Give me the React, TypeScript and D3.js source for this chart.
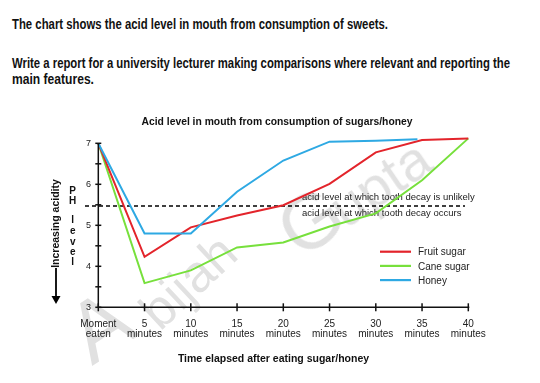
import React from "react";
import * as d3 from "d3";

const times = [0, 5, 10, 15, 20, 25, 30, 35, 40];
const tickLine1 = ["Moment", "5", "10", "15", "20", "25", "30", "35", "40"];
const tickLine2 = ["eaten", "minutes", "minutes", "minutes", "minutes", "minutes", "minutes", "minutes", "minutes"];
const yTicks = [3, 4, 5, 6, 7];
const yMinor = [3, 3.5, 4, 4.5, 5, 5.5, 6, 6.5, 7];

const fruitSugar = [7, 4.23, 4.95, 5.24, 5.49, 6.01, 6.78, 7.08, 7.12];
const caneSugar = [7, 3.59, 3.9, 4.46, 4.58, 4.97, 5.29, 6.1, 7.12];
const honeyTimes = [0, 5, 10, 15, 20, 25, 30, 34.5];
const honey = [7, 4.8, 4.8, 5.82, 6.58, 7.04, 7.06, 7.1];
const threshold = 5.47;

const seriesNames = ["Fruit sugar", "Cane sugar", "Honey"];
const seriesColors = ["#e3242b", "#77e03c", "#2ea9e3"];

const font = "Arial, 'Liberation Sans', Helvetica, sans-serif";
const narrow = "'Liberation Sans Narrow', 'Arial Narrow', 'Liberation Sans', Arial, sans-serif";

export default function App() {
  const x = d3.scaleLinear().domain([0, 40]).range([98.3, 468.3]);
  const y = d3.scaleLinear().domain([3, 7]).range([307.3, 143.3]);
  const line = d3
    .line<[number, number]>()
    .x((d) => x(d[0]))
    .y((d) => y(d[1]));

  const series: [number, number][][] = [
    times.map((t, i) => [t, fruitSugar[i]] as [number, number]),
    times.map((t, i) => [t, caneSugar[i]] as [number, number]),
    honeyTimes.map((t, i) => [t, honey[i]] as [number, number]),
  ];
  // draw order: cane, fruit, honey
  const order = [1, 0, 2];

  const phLetters = [
    { c: "P", y: 190 },
    { c: "H", y: 200.7 },
    { c: "l", y: 219 },
    { c: "e", y: 230 },
    { c: "v", y: 241 },
    { c: "e", y: 251.7 },
    { c: "l", y: 261.7 },
  ];

  const sx = 0.8;

  return (
    <svg
      width={540}
      height={383}
      style={{ position: "absolute", left: 0, top: 0, background: "#fff" }}
    >
      <rect x={0} y={0} width={540} height={383} fill="#fff" />
      {/* header */}
      <g
        transform={`scale(${sx},1)`}
        fontFamily={narrow}
        fontWeight="bold"
        fontSize={15}
        fill="#111"
      >
        <text x={12 / sx} y={29.5} textLength={376 / sx} lengthAdjust="spacingAndGlyphs">
          The chart shows the acid level in mouth from consumption of sweets.
        </text>
        <text x={12 / sx} y={68.5} textLength={498 / sx} lengthAdjust="spacingAndGlyphs">
          Write a report for a university lecturer making comparisons where relevant and reporting the
        </text>
        <text x={12 / sx} y={84.5} textLength={82 / sx} lengthAdjust="spacingAndGlyphs">
          main features.
        </text>
      </g>

      {/* watermark */}
      <g fill="#000" opacity={0.12} fontFamily={font}>
        <text transform="translate(92,366) rotate(-33)" fontSize={86}>A</text>
        <text transform="translate(160,332) rotate(-43)" fontSize={52}>bijah</text>
        <text transform="translate(300,260) rotate(-34)">
          <tspan fontSize={78}>G</tspan>
          <tspan fontSize={56} dx={-6}>upta</tspan>
        </text>
      </g>

      {/* chart title */}
      <text
        x={277}
        y={125}
        textAnchor="middle"
        fontFamily={font}
        fontWeight="bold"
        fontSize={10.5}
        fill="#111"
        textLength={271}
        lengthAdjust="spacingAndGlyphs"
      >
        Acid level in mouth from consumption of sugars/honey
      </text>

      {/* threshold line */}
      <line
        x1={85}
        x2={465}
        y1={y(threshold)}
        y2={y(threshold)}
        stroke="#000"
        strokeWidth={1.6}
        strokeDasharray="4,3"
      />
      <g fontFamily={font} fontSize={9.5} fill="#222">
        <text x={302} y={y(threshold) - 6}>acid level at which tooth decay is unlikely</text>
        <text x={302} y={y(threshold) + 10}>acid level at which tooth decay occurs</text>
      </g>

      {/* series */}
      {order.map((i) => (
        <path
          key={seriesNames[i]}
          d={line(series[i]) || ""}
          fill="none"
          stroke={seriesColors[i]}
          strokeWidth={2}
          strokeLinejoin="miter"
        />
      ))}

      {/* axes */}
      <line x1={x(0)} x2={x(40) + 1} y1={y(3)} y2={y(3)} stroke="#111" strokeWidth={1.5} />
      <line x1={x(0)} x2={x(0)} y1={y(7)} y2={y(3)} stroke="#111" strokeWidth={1.5} />
      {yMinor.map((v) => (
        <line key={v} x1={x(0) - 3} x2={x(0) + 3} y1={y(v)} y2={y(v)} stroke="#111" strokeWidth={1.5} />
      ))}
      {times.map((t) => (
        <line key={t} x1={x(t)} x2={x(t)} y1={y(3) - 4} y2={y(3) + 4} stroke="#111" strokeWidth={1.5} />
      ))}
      <g fontFamily={font} fontSize={9} fill="#222" textAnchor="end">
        {yTicks.map((v) => (
          <text key={v} x={91} y={y(v) + 3}>
            {v}
          </text>
        ))}
      </g>
      <g fontFamily={font} fontSize={10} fill="#222" textAnchor="middle">
        {times.map((t, i) => (
          <g key={t}>
            <text x={x(t)} y={327}>{tickLine1[i]}</text>
            <text x={x(t)} y={336.5}>{tickLine2[i]}</text>
          </g>
        ))}
      </g>

      {/* axis titles */}
      <text
        x={273.5}
        y={361.5}
        textAnchor="middle"
        fontFamily={font}
        fontWeight="bold"
        fontSize={10.5}
        fill="#111"
      >
        Time elapsed after eating sugar/honey
      </text>
      <text
        transform="translate(59,223.5) rotate(-90)"
        textAnchor="middle"
        fontFamily={font}
        fontWeight="bold"
        fontSize={10.5}
        fill="#111"
      >
        Increasing acidity
      </text>
      <line x1={56} x2={56} y1={268} y2={298} stroke="#000" strokeWidth={1.8} />
      <path d="M51.5,296 L60.5,296 L56,304 Z" fill="#000" />
      <g fontFamily={font} fontWeight="bold" fontSize={10} fill="#111" textAnchor="middle">
        {phLetters.map((l, i) => (
          <text key={i} x={72.7} y={l.y + 3.6}>
            {l.c}
          </text>
        ))}
      </g>

      {/* legend */}
      {seriesNames.map((n, i) => (
        <g key={n} transform={`translate(380,${251.7 + i * 14.2})`}>
          <line x1={0} x2={31} y1={0} y2={0} stroke={seriesColors[i]} strokeWidth={2.2} />
          <text x={38} y={3.6} fontFamily={font} fontSize={10} fill="#222">
            {n}
          </text>
        </g>
      ))}
    </svg>
  );
}
